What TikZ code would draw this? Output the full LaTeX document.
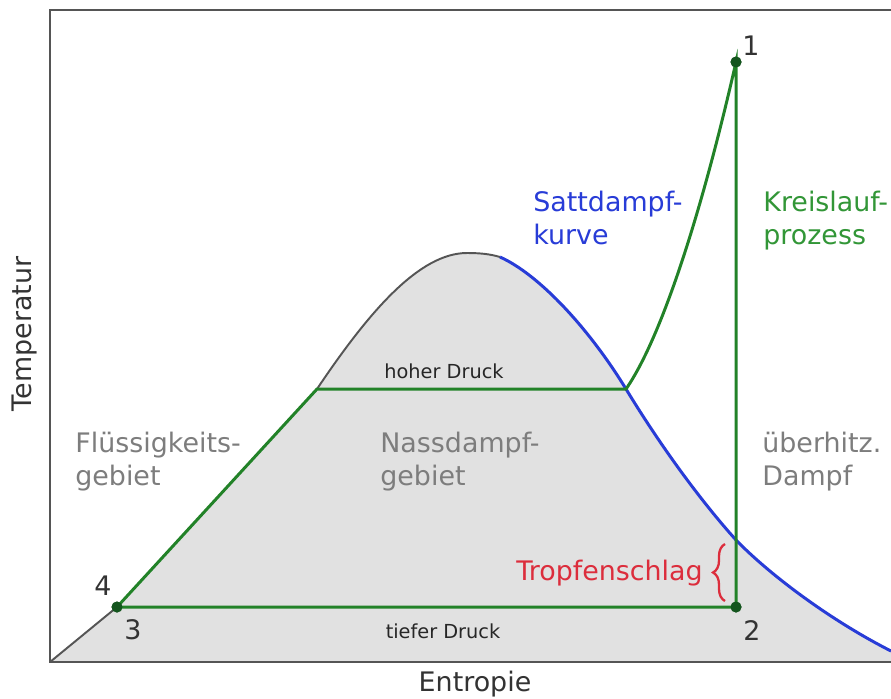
\documentclass[tikz,border=0pt]{standalone}
\usepackage{fontspec}
\setmainfont{DejaVu Sans}
\usetikzlibrary{positioning,decorations.pathreplacing}
\definecolor{TSGreen}{RGB}{34,130,40}
\definecolor{TSTextGreen}{RGB}{50,150,55}
\definecolor{TSBlue}{RGB}{40,60,215}
\definecolor{TSRed}{RGB}{220,45,60}
\definecolor{TSGray}{RGB}{125,125,125}
\definecolor{TSFill}{RGB}{225,225,225}
\definecolor{TSLine}{RGB}{85,85,85}
\definecolor{TSDot}{RGB}{20,85,30}

\begin{document}
\begin{tikzpicture}[
x=0.02cm,y=-0.02cm,
big/.style={inner sep=0pt,align=left,font=\fontsize{15.3}{18.8}\selectfont},
small/.style={inner sep=0pt,font=\fontsize{11}{13}\selectfont,text=black!85},
region/.style={big,text=TSGray,anchor=north west},
num/.style={inner sep=0pt,font=\fontsize{15.3}{18.8}\selectfont,text=black!80},
dot/.style={circle,fill=TSDot,inner sep=0pt,minimum size=0.22cm},
cycle line/.style={draw=TSGreen,line width=1.7pt},
dome/.style={draw=TSLine,line width=1.1pt},
satt/.style={draw=TSBlue,line width=1.7pt},
frame/.style={draw=TSLine,line width=1.3pt}
]
\useasboundingbox (0,0) rectangle (891,698);

% key points of the diagram
\coordinate (o) at (50,662);
\coordinate (hl) at (317,389);
\coordinate (top) at (467,253);
\coordinate (bs) at (500,257);
\coordinate (hr) at (626,389);
\coordinate (x2) at (736,540);
\coordinate (e) at (891,651);
\coordinate (eb) at (891,662);

% wet steam region
\fill[TSFill] (o) -- (117,607) -- (hl)
  .. controls (370,310) and (420,253) .. (top)
  .. controls (480,253) and (490,254) .. (bs)
  .. controls (540,275) and (590,330) .. (hr)
  .. controls (660,445) and (700,500) .. (x2)
  .. controls (770,575) and (830,620) .. (e) -- (eb) -- cycle;

% saturation curves
\draw[dome] (o) -- (117,607);
\draw[dome] (hl) .. controls (370,310) and (420,253) .. (top)
  .. controls (480,253) and (490,254) .. (bs);
\draw[satt] (bs) .. controls (540,275) and (590,330) .. (hr)
  .. controls (660,445) and (700,500) .. (x2)
  .. controls (770,575) and (830,620) .. (e);

% axes
\draw[frame] (891,10) -- (50,10) -- (o) -- (eb);

% cycle
\node[dot] (p3) at (117,607) {};
\node[dot] (p2) at (736,607) {};
\node[dot] (p1) at (736,62) {};
\draw[cycle line] (p3.center) -- (hl) -- (hr)
  .. controls (660,340) and (700,220) .. (p1.center) -- (p2.center) -- cycle;
\node[dot] at (p3) {};
\node[dot] at (p2) {};
\node[dot] at (p1) {};

% numbers
\node[num] (n1) at (751,46) {1};
\node[num] (n2) at (752,631) {2};
\node[num] (n3) at (133,630) {3};
\node[num] (n4) at (103,586) {4};

% pressure labels
\node[small,anchor=base] (hoch) at (444,378) {hoher Druck};
\node[small,anchor=base] (tief) at (443,638) {tiefer Druck};

% region labels
\node[region] (fl) at (75,432) {Flüssigkeits-\\gebiet};
\node[region] (nd) at (380,432) {Nassdampf-\\gebiet};
\node[region] (ue) at (762,432) {überhitz.\\Dampf};
\node[region,text=TSBlue] (sk) at (533,191) {Sattdampf-\\kurve};
\node[region,text=TSTextGreen] (kp) at (763,191) {Kreislauf-\\prozess};

% droplet impact
\node[big,text=TSRed,anchor=base east] (tropf) at (703,580) {Tropfenschlag};
\draw[TSRed,line width=1.3pt,decorate,decoration={brace,amplitude=0.24cm}]
  (725,601) -- (725,544);

% axis titles
\node[big,text=black!80,anchor=base] (s) at (475,691) {Entropie};
\node[big,text=black!80,rotate=90] (t) at (24,334) {Temperatur};
\end{tikzpicture}
\end{document}
